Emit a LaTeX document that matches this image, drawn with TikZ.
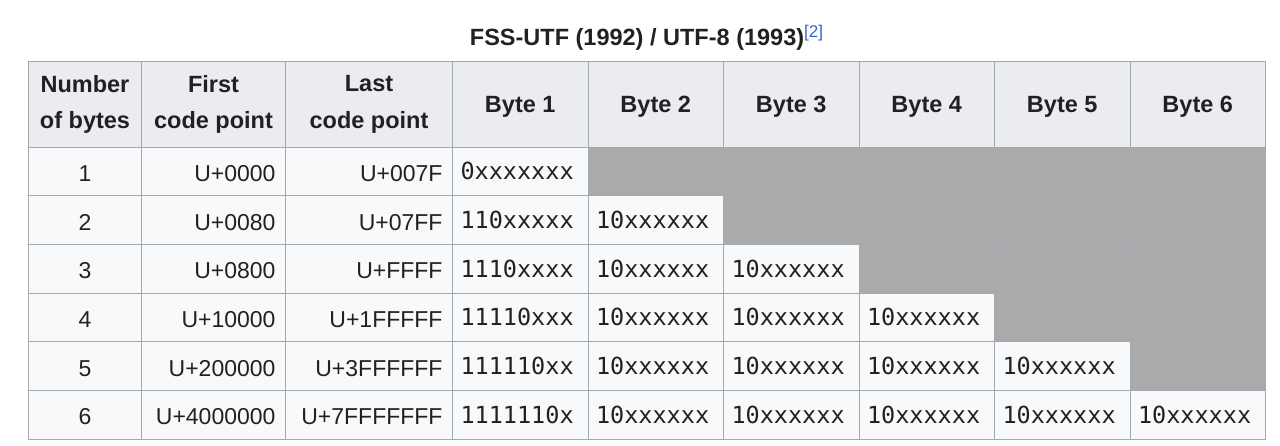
\documentclass[tikz,border=0pt]{standalone}
\usepackage{fontspec}
\setmainfont{Liberation Sans}
\newfontfamily\codefont{DejaVu Sans Mono}
\usepackage{xcolor}

\definecolor{headgray}{HTML}{EAECF0}
\definecolor{cellwhite}{HTML}{F8F9FA}
\definecolor{rulegray}{HTML}{A2A9B1}
\definecolor{unusedgray}{HTML}{AAAAAA}
\definecolor{ink}{HTML}{202122}
\definecolor{linkblue}{HTML}{3366CC}

\tikzset{
  box/.style={draw=rulegray, line width=1pt, anchor=north west, inner ysep=0pt, text=ink},
  headcell/.style={box, fill=headgray, minimum height=85.7pt, align=center,
    font=\fontsize{23.5}{36.7}\selectfont\bfseries},
  headone/.style={headcell, text height=19.5pt, text depth=2.5pt},
  bodycell/.style={box, fill=cellwhite, minimum height=48.7pt, inner xsep=10pt,
    font=\fontsize{23}{28}\selectfont, text height=21.6pt, text depth=2pt},
  codecell/.style={box, fill=cellwhite, minimum height=48.7pt, inner xsep=8pt,
    text width=119.5pt, align=left, font=\fontsize{23.5}{28}\codefont,
    text height=19.6pt, text depth=3pt},
  greycell/.style={box, fill=unusedgray, minimum height=48.7pt, minimum width=135.5pt},
  caption/.style={anchor=base, text=ink, font=\fontsize{23.5}{28}\selectfont\bfseries}
}

\begin{document}
\begin{tikzpicture}[x=1pt,y=-1pt]
\useasboundingbox (0,0) rectangle (1280,446);
%% caption over the table, with its reference mark
\node[caption] (title) at (646.5,46) {FSS-UTF (1992) / UTF-8 (1993)\raisebox{8.5pt}{\fontsize{17}{17}\selectfont\mdseries\color{linkblue}[2]}};
%% header row: the three wide columns first, then the six byte columns
\foreach \xl/\w/\name/\txt in {28/113/hNum/{Number\\of bytes}, 141/144/hFirst/{First\\code point}, 285/167/hLast/{Last\\code point}}
  \node[headcell, minimum width=\w pt] (\name) at (\xl,61) {\txt};
\foreach \k in {1,...,6} {
  \pgfmathsetmacro\xl{452+(\k-1)*135.5}
  \node[headone, minimum width=135.5pt] (hByte\k) at (\xl,61) {Byte \k};
}
%% one row per sequence length; unused bytes are greyed out
\foreach \r/\first/\last/\lead in {1/U+0000/U+007F/0xxxxxxx, 2/U+0080/U+07FF/110xxxxx, 3/U+0800/U+FFFF/1110xxxx, 4/U+10000/U+1FFFFF/11110xxx, 5/U+200000/U+3FFFFFF/111110xx, 6/U+4000000/U+7FFFFFFF/1111110x} {
  \pgfmathsetmacro\rowtop{146.7+(\r-1)*48.7}
  \node[bodycell, minimum width=113pt, text width=93pt, align=center] (n\r) at (28,\rowtop) {\r};
  \node[bodycell, minimum width=144pt, text width=124pt, align=right] (f\r) at (141,\rowtop) {\first};
  \node[bodycell, minimum width=167pt, text width=147pt, align=right] (l\r) at (285,\rowtop) {\last};
  \node[codecell] (b\r-1) at (452,\rowtop) {\lead};
  \foreach \k in {2,...,6} {
    \pgfmathsetmacro\xl{452+(\k-1)*135.5}
    \ifnum\k>\r
      \node[greycell] (b\r-\k) at (\xl,\rowtop) {};
    \else
      \node[codecell] (b\r-\k) at (\xl,\rowtop) {10xxxxxx};
    \fi
  }
}
\end{tikzpicture}
\end{document}
